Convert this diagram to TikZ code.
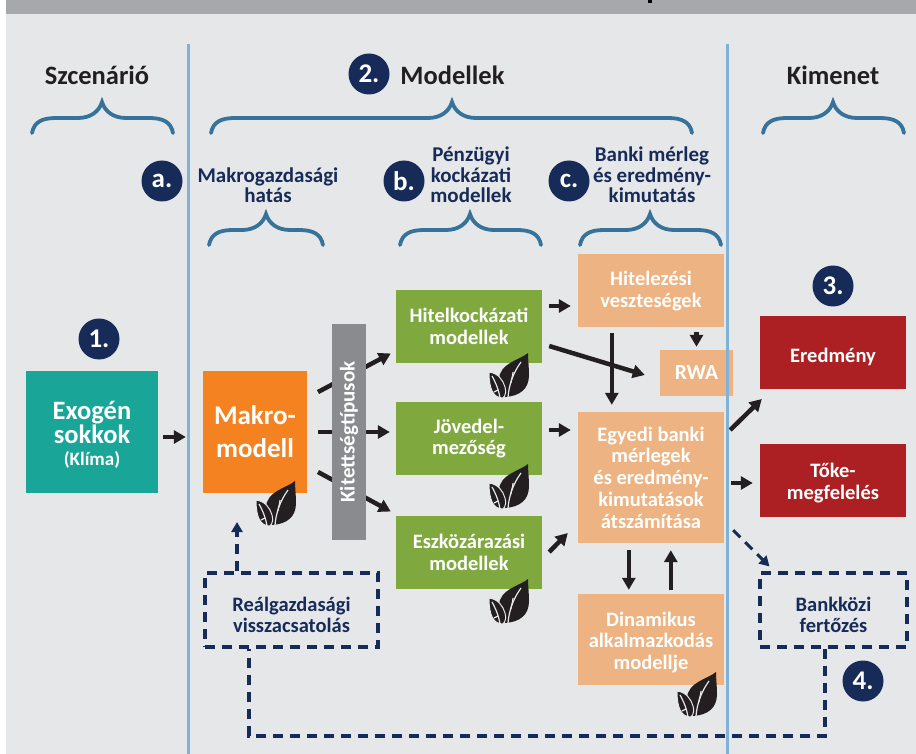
\documentclass[tikz,border=0pt]{standalone}
\usepackage{fontspec}
\setmainfont{Carlito}
\usetikzlibrary{arrows.meta,calc}
\definecolor{bgc}{HTML}{E6E7E9}
\definecolor{topc}{HTML}{A7A8AB}
\definecolor{vline}{HTML}{7FB2D6}
\definecolor{brc}{HTML}{37729A}
\definecolor{navy}{HTML}{172B59}
\definecolor{ink}{HTML}{231F20}
\definecolor{tealc}{HTML}{1AA599}
\definecolor{orangec}{HTML}{F58220}
\definecolor{greyc}{HTML}{8A8B8F}
\definecolor{greenc}{HTML}{7FA93F}
\definecolor{peach}{HTML}{EDB382}
\definecolor{redc}{HTML}{AC2024}
\newcommand{\dn}{\rule{0pt}{20pt}}
\newcommand{\brct}[4]{% x1, xm, x2, ytop
  \draw[line width=3.8pt,brc,line cap=round]
   (#1,#4+31) .. controls (#1+2,#4+20) and (#1+10,#4+16) .. (#1+24,#4+16)
   -- (#2-24,#4+16) .. controls (#2-12,#4+16) and (#2-3,#4+10) .. (#2,#4)
   .. controls (#2+3,#4+10) and (#2+12,#4+16) .. (#2+24,#4+16)
   -- (#3-24,#4+16) .. controls (#3-10,#4+16) and (#3-2,#4+20) .. (#3,#4+31);}
\tikzset{
  x=1pt,y=-1pt,
  box/.style={inner sep=0pt,align=center,text=white,font=\bfseries\fontsize{20.5}{21.7}\selectfont},
  head/.style={inner sep=0pt,text=ink,font=\bfseries\fontsize{26.5}{30}\selectfont},
  sub/.style={inner sep=0pt,align=center,text=navy,font=\bfseries\fontsize{21}{20.5}\selectfont},
  num/.style={circle,fill=navy,minimum size=41pt,inner sep=0pt,text=white,font=\bfseries\fontsize{27}{30}\selectfont},
  arr/.style={line width=4.5pt,ink,-{Triangle[length=12pt,width=13pt]}},
  dbox/.style={draw=navy,line width=3.1pt,dash pattern=on 10pt off 7pt,inner sep=0pt,align=center,text=navy,font=\bfseries\fontsize{20.5}{21.5}\selectfont},
  dline/.style={draw=navy,line width=3.1pt,dash pattern=on 10pt off 7pt},
  leaf/.pic={
    \fill[ink] (20,0) .. controls (12,7) and (-9,10) .. (-9,27) .. controls (-9,33) and (-6,38) .. (-3,44) .. controls (12,43) and (21,36) .. (21,22) .. controls (21,14) and (20,7) .. (20,0) -- cycle;
    \fill[ink,draw=bgc,line width=1pt] (-19,19) .. controls (-10,20) and (-5,27) .. (-3,34) .. controls (-2,38) and (-2,42) .. (-5,45) .. controls (-15,45) and (-19,36) .. (-19,19) -- cycle;
    \draw[bgc,line width=1.2pt] (0,44) .. controls (1,32) and (5,20) .. (13,9);
    \draw[bgc,line width=1.2pt] (3,30) .. controls (3,27) and (5,23) .. (5,19);
    \draw[bgc,line width=1.2pt] (-8,45) .. controls (-9,38) and (-12,30) .. (-16,23);
    \draw[bgc,line width=1.2pt] (-10,37) -- (-14,39);
  }
}
\begin{document}
\begin{tikzpicture}
\useasboundingbox (0,0) rectangle (916,754);
\fill[white] (0,0) rectangle (916,754);
\fill[bgc] (6,14) rectangle (916,754);
\fill[topc] (6,0) rectangle (916,14);
\fill[black] (648,0) rectangle (652,3);

% boxes
\node[box,fill=tealc,minimum width=132pt,minimum height=122pt] (exo) at (92,432)
  {\fontsize{26.5}{28}\selectfont\rule{0pt}{24pt}Exogén\\\fontsize{26.5}{28}\selectfont sokkok\\\fontsize{19}{19}\selectfont (Klíma)};
\node[box,fill=orangec,minimum width=104pt,minimum height=122pt,font=\bfseries\fontsize{27}{33}\selectfont] (makro) at (255,432) {Makro-\\modell};
\node[box,fill=greenc,minimum width=146pt,minimum height=73pt] (hitel) at (469,326.5) {Hitelkockázati\\modellek};
\node[box,fill=greenc,minimum width=146pt,minimum height=73pt] (jov) at (469,438.5) {Jövedel-\\mezőség};
\node[box,fill=greenc,minimum width=146pt,minimum height=73pt] (eszk) at (469,552.5) {Eszközárazási\\modellek};
\node[box,fill=peach,minimum width=146pt,minimum height=73pt] (veszt) at (651,290.5) {\rule{0pt}{16pt}Hitelezési\\veszteségek};
\node[box,fill=peach,minimum width=73pt,minimum height=46pt,font=\bfseries\fontsize{21.5}{24}\selectfont] (rwa) at (696.5,373) {RWA};
\node[box,fill=peach,minimum width=146pt,minimum height=131pt] (egyedi) at (651,477.5) {Egyedi banki\\mérlegek\\és eredmény-\\kimutatások\\átszámítása};
\node[box,fill=peach,minimum width=146pt,minimum height=91pt] (din) at (651,639.5) {\dn Dinamikus\\alkalmazkodás\\modellje};
\node[box,fill=redc,minimum width=146pt,minimum height=73pt] (ered) at (833,352.5) {\rule{0pt}{24pt}Eredmény};
\node[box,fill=redc,minimum width=146pt,minimum height=73pt] (toke) at (833,480.5) {\dn Tőke-\\megfelelés};
\node[dbox,minimum width=173pt,minimum height=74pt] (real) at (291.5,610) {\rule{0pt}{24pt}Reálgazdasági\\visszacsatolás};
\node[dbox,minimum width=147pt,minimum height=74pt] (bank) at (833.5,610) {\rule{0pt}{24pt}Bankközi\\fertőzés};

% arrows under the exposure bar
\draw[arr] ([shift={(63,-40)}]makro.center) -- ([shift={(-5,27)}]hitel.west);
\draw[arr] ([shift={(63,0)}]makro.center) -- ([shift={(-6,-6.5)}]jov.west);
\draw[arr] ([shift={(63,40)}]makro.center) -- ([shift={(-5,-41)}]eszk.west);
\node[box,fill=greyc,minimum width=34pt,minimum height=216pt] (kit) at (349,432) {};
\node[box,rotate=90,font=\bfseries\fontsize{21}{22}\selectfont] (kitl) at (349,432) {Kitettségtípusok};

% other arrows
\draw[arr] ([shift={(5,5)}]exo.east) -- ([shift={(-17,5)}]makro.west);
\draw[arr] ([shift={(7,-20.5)}]hitel.east) -- ([shift={(-7,15.5)}]veszt.west);
\draw[arr] ([shift={(7,-8.5)}]jov.east) -- ([shift={(-7,-47.5)}]egyedi.west);
\draw[arr] ([shift={(7,-0.5)}]eszk.east) -- ([shift={(-10,55.5)}]egyedi.west);
\draw[arr] ([shift={(7,19.5)}]hitel.east) -- ([shift={(-15,2)}]rwa.west);
\draw[arr] ([shift={(34,6)}]veszt.south west) -- ([shift={(34,-7)}]egyedi.north west);
\draw[arr] ([yshift=-5pt]veszt.south -| rwa.north) -- ([yshift=3pt]rwa.north);
\draw[arr] ([shift={(6,-47.5)}]egyedi.east) -- ([shift={(2,46.5)}]ered.west);
\draw[arr] ([shift={(7,5.5)}]egyedi.east) -- ([shift={(-7,2.5)}]toke.west);
\draw[arr] ([shift={(51,7)}]egyedi.south west) -- ([shift={(51,-4)}]din.north west);
\draw[arr] ([shift={(93,-4)}]din.north west) -- ([shift={(93,7)}]egyedi.south west);

% dashed connectors
\coordinate (bendr) at (825,736);
\coordinate (bendl) at (249,736);
\draw[dline] (bank.south -| bendr) -- (bendr) -- (bendl) -- (real.south -| bendl);
\draw[dline,-{Triangle[length=10pt,width=11pt]}] (real.north -| 237,0) -- (237,522);
\draw[dline,-{Triangle[length=10pt,width=11pt]}] ([shift={(9,-13)}]egyedi.south east) -- ([shift={(11,-5)}]bank.north west);

% leaves
\foreach \a/\b [count=\i] in {275/481,508/353,508/464,508/579,696/672}{
  \pic (lf\i) at (\a,\b) {leaf};
}

% vertical rules
\draw[vline,line width=3pt] (188,44) -- (188,754);
\draw[vline,line width=3pt] (727,44) -- (727,754);

% headings
\node[head] (h1) at (97,75) {Szcenárió};
\node[head] (h2) at (452.5,75) {Modellek};
\node[head] (h3) at (833,75) {Kimenet};
\node[num] (n2) at (369,74) {2.};
\node[num] (n1) at (99,339) {1.};
\node[num] (n3) at (833,286) {3.};
\node[num] (n4) at (863,681) {4.};
\node[num] (na) at (162,181) {a.};
\node[num] (nb) at (404,181) {b.};
\node[num] (nc) at (569,181) {c.};
\node[sub] (sa) at (268,185) {Makrogazdasági\\hatás};
\node[sub] (sb) at (471,175) {Pénzügyi\\kockázati\\modellek};
\node[sub] (sc) at (652,175) {Banki mérleg\\és eredmény-\\kimutatás};

% braces
\brct{32}{102}{173}{102}
\brct{211}{452}{692}{102}
\brct{763}{833}{904}{102}
\brct{209}{266}{323}{214}
\brct{400}{470}{541}{214}
\brct{580}{650}{721}{214}
\end{tikzpicture}
\end{document}
